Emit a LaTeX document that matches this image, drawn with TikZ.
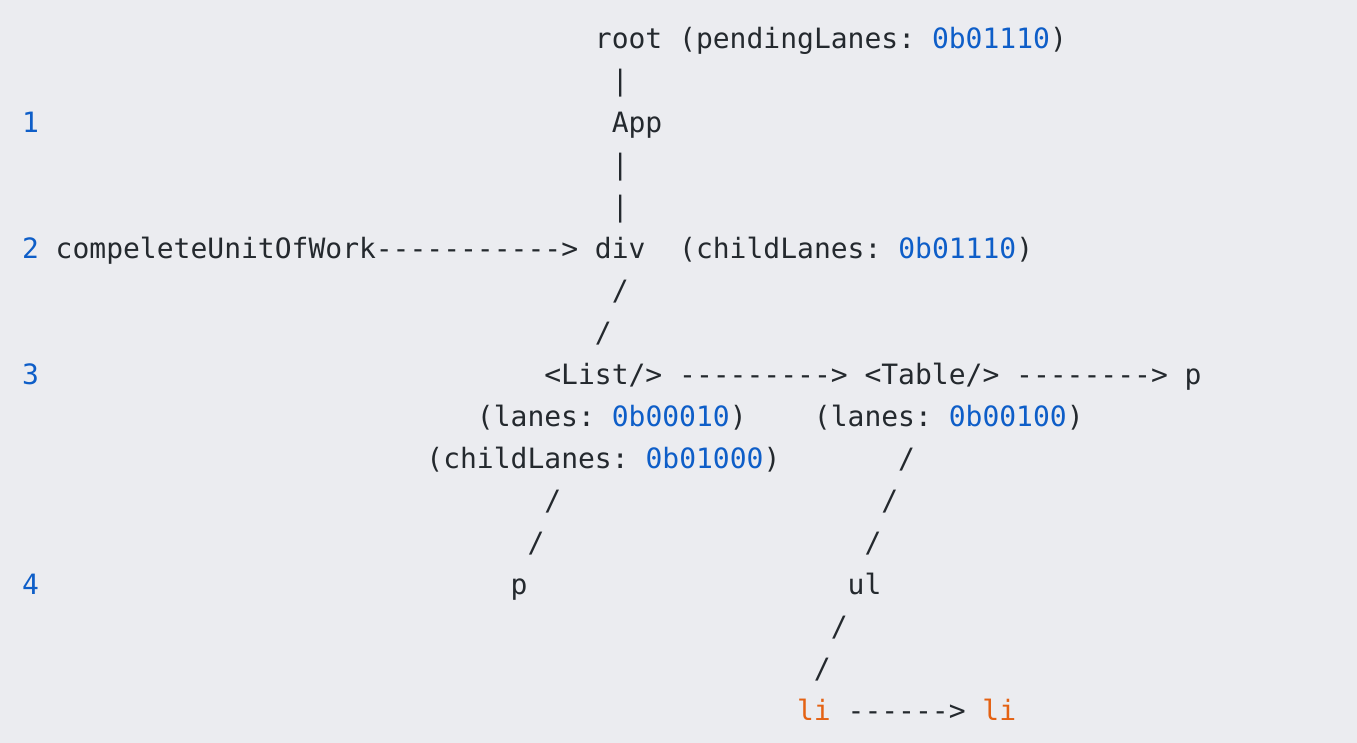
\documentclass[tikz,border=0pt]{standalone}
\usepackage{fontspec}
\setmonofont{DejaVu Sans Mono}
\definecolor{bg}{RGB}{235,236,240}
\definecolor{ink}{RGB}{36,41,46}
\definecolor{numblue}{RGB}{14,94,200}
\definecolor{tagorange}{RGB}{228,98,20}
\newcommand{\bits}[1]{\textcolor{numblue}{#1}}
\newcommand{\tagname}[1]{\textcolor{tagorange}{#1}}
\begin{document}
\begin{tikzpicture}[x=12.6375pt, y=-31.5pt]
  \tikzstyle{code} = [anchor=base west, inner sep=0pt, outer sep=0pt, text=ink, font=\ttfamily\fontsize{21}{25}\selectfont]
  \tikzstyle{lineno} = [code, text=numblue]
  \useasboundingbox[fill=bg] (0,0) rectangle (80.534,17.690);
  \begin{scope}[shift={(1.306,1.165)}]
  % root and App
  \node[code] (root) at (34,0) {root};
  \node[code] (rootlanes) at (39,0) {(pendingLanes: \bits{0b01110})};
  \node[code] (bar1) at (35,1) {|};
  \node[lineno] (n1) at (0,2) {1};
  \node[code] (app) at (35,2) {App};
  \node[code] (bar2) at (35,3) {|};
  \node[code] (bar3) at (35,4) {|};
  % div
  \node[lineno] (n2) at (0,5) {2};
  \node[code] (work) at (2,5) {compeleteUnitOfWork};
  \node[code] (workarrow) at (21,5) {----------->};
  \node[code] (div) at (34,5) {div};
  \node[code] (divlanes) at (39,5) {(childLanes: \bits{0b01110})};
  \node[code] (slash1) at (35,6) {/};
  \node[code] (slash2) at (34,7) {/};
  % List and Table
  \node[lineno] (n3) at (0,8) {3};
  \node[code] (list) at (31,8) {<List/>};
  \node[code] (listarrow) at (39,8) {--------->};
  \node[code] (table) at (50,8) {<Table/>};
  \node[code] (tablearrow) at (59,8) {-------->};
  \node[code] (ptop) at (69,8) {p};
  \node[code] (listlanes) at (27,9) {(lanes: \bits{0b00010})};
  \node[code] (tablelanes) at (47,9) {(lanes: \bits{0b00100})};
  \node[code] (listchild) at (24,10) {(childLanes: \bits{0b01000})};
  \node[code] (slash3) at (52,10) {/};
  \node[code] (slash4) at (31,11) {/};
  \node[code] (slash5) at (51,11) {/};
  \node[code] (slash6) at (30,12) {/};
  \node[code] (slash7) at (50,12) {/};
  % p and ul
  \node[lineno] (n4) at (0,13) {4};
  \node[code] (plist) at (29,13) {p};
  \node[code] (ul) at (49,13) {ul};
  \node[code] (slash8) at (48,14) {/};
  \node[code] (slash9) at (47,15) {/};
  % li
  \node[code] (li1) at (46,16) {\tagname{li}};
  \node[code] (liarrow) at (49,16) {------>};
  \node[code] (li2) at (57,16) {\tagname{li}};
  \end{scope}
\end{tikzpicture}
\end{document}
